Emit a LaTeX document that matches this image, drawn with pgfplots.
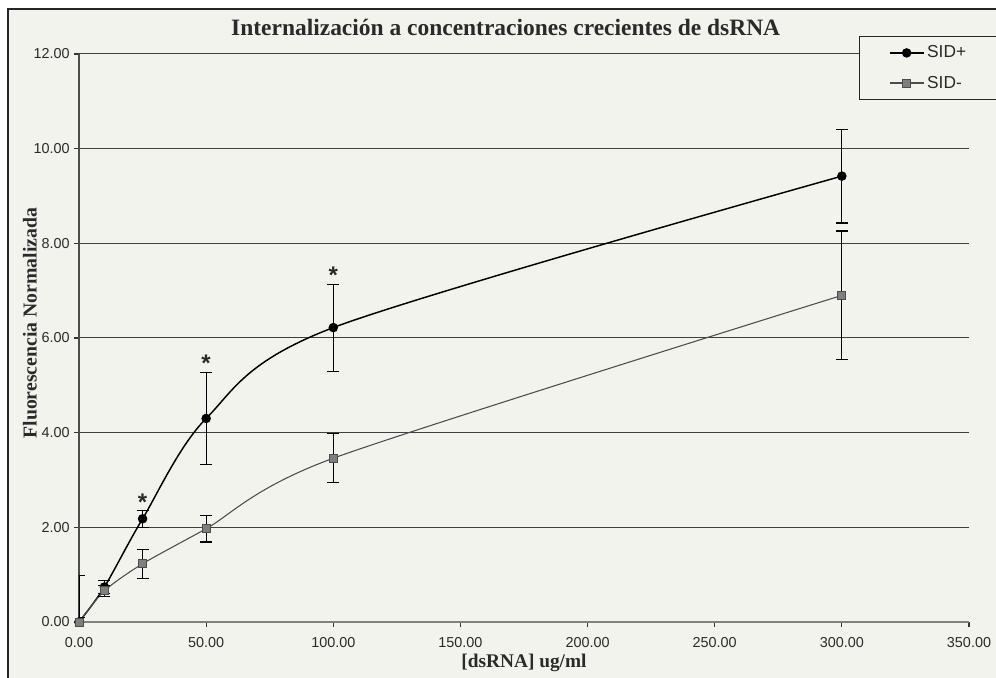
\documentclass[border=0pt]{standalone}
\usepackage{fontspec}
\setmainfont{Liberation Serif}
\newfontfamily\arial{Liberation Sans}
\usepackage{pgfplots}
\pgfplotsset{compat=1.18}
\definecolor{bgc}{HTML}{F3F3EE}
\definecolor{gridc}{HTML}{404040}
\definecolor{sidm}{HTML}{7F7F7F}
\definecolor{txt}{HTML}{2A2A2A}

\pgfplotstableread{
x y e
0 0 0.99
10 0.74 0.14
25 2.18 0.18
50 4.30 0.98
100 6.22 0.92
300 9.42 0.99
}\sidplus
\pgfplotstableread{
x y e
0 0 0.10
10 0.66 0.12
25 1.23 0.31
50 1.97 0.28
100 3.46 0.52
300 6.90 1.36
}\sidminus
\pgfplotstableread{
x y
25 2.52
50 5.46
100 7.32
}\stars

\begin{document}
\begin{tikzpicture}
\useasboundingbox (-59.25pt,-42pt) rectangle (687.75pt,466.5pt);
\fill[bgc] (-53.25pt,-45pt) rectangle (690pt,459.75pt);
\draw[black!85, line width=1pt] (-53.25pt,-45pt) -- (-53.25pt,459.75pt) -- (690pt,459.75pt);
\begin{axis}[
  scale only axis, width=667.5pt, height=426pt,
  xmin=0, xmax=350, ymin=0, ymax=12,
  xtick={0,50,...,350}, ytick={0,2,...,12},
  axis x line*=bottom, axis y line*=left,
  x axis line style={gray, line width=1pt},
  y axis line style={black!70, line width=1pt},
  ymajorgrids, grid style={gridc, line width=0.75pt},
  tick align=outside, major tick length=3.5pt,
  tick style={black!80, line width=0.8pt},
  tick label style={font=\arial\fontsize{10.8}{12}\selectfont, text=txt},
  /pgf/number format/.cd, fixed, fixed zerofill, precision=2, assume math mode=true, /pgfplots/.cd,
  xticklabel style={yshift=-4.5pt},
  title={\bfseries Internalizaci\'on a concentraciones crecientes de dsRNA},
  title style={at={(0.4794,1.032)}, anchor=center, font=\fontsize{17.6}{19}\selectfont, text=txt},
  xlabel={\bfseries [dsRNA] ug/ml},
  xlabel style={at={(axis description cs:0.5,-0.0722)}, anchor=center, font=\fontsize{14.5}{16}\selectfont, text=txt},
  ylabel={\bfseries Fluorescencia Normalizada},
  ylabel style={at={(axis description cs:-0.0551,0.526)}, anchor=center, font=\fontsize{14.8}{16}\selectfont, text=txt},
  legend style={at={(0.8764,1.0317)}, anchor=north west, fill=bgc, draw=black!85, line width=0.8pt,
    font=\arial\fontsize{13}{14}\selectfont, text=txt, inner xsep=22pt, inner ysep=5pt, row sep=8pt},
  legend cell align=left,
  legend image code/.code={\draw[mark repeat=2,mark phase=2] plot coordinates {(0cm,0cm) (0.45cm,0cm) (0.9cm,0cm)};},
]
\addplot[black, line width=1.1pt, smooth, tension=0.5, mark=*, mark size=3pt,
  mark options={solid, fill=black, draw=black},
  error bars/.cd, y dir=both, y explicit,
  error bar style={black, line width=0.8pt, solid},
  error mark options={rotate=90, mark size=4.5pt, black, line width=0.8pt}]
  table[x=x, y=y, y error=e] {\sidplus};
\addlegendentry{SID+}
\addplot[black!70, line width=0.8pt, smooth, tension=0.45, mark=square*, mark size=3pt,
  mark options={solid, fill=sidm, draw=black!70, line width=0.6pt},
  error bars/.cd, y dir=both, y explicit,
  error bar style={black, line width=0.8pt, solid},
  error mark options={rotate=90, mark size=4.5pt, black, line width=0.8pt}]
  table[x=x, y=y, y error=e] {\sidminus};
\addlegendentry{SID-}
\addplot[draw=none, forget plot, nodes near coords={\arial\bfseries *},
  every node near coord/.append style={anchor=center, font=\fontsize{18}{18}\selectfont, text=txt}]
  table[x=x, y=y] {\stars};
\end{axis}
\end{tikzpicture}
\end{document}
